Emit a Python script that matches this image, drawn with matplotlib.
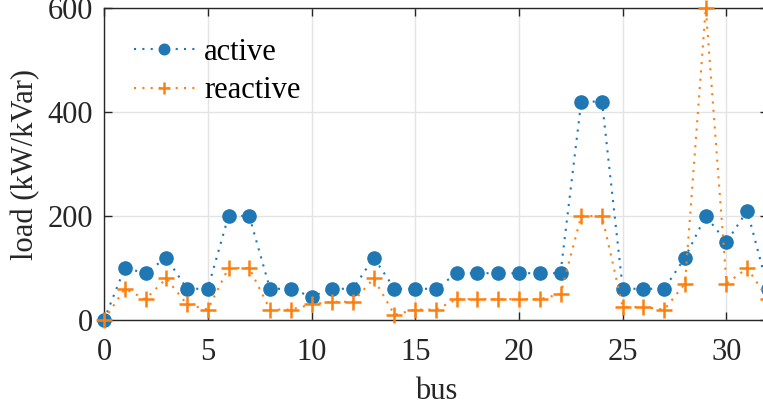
import matplotlib
matplotlib.use("Agg")
import matplotlib.pyplot as plt
import numpy as np

# Bus loads of the 33-bus distribution feeder (bus 0 is the substation)
buses = list(range(33))
active = [0, 100, 90, 120, 60, 60, 200, 200, 60, 60, 45, 60, 60, 120, 60, 60, 60,
          90, 90, 90, 90, 90, 90, 420, 420, 60, 60, 60, 120, 200, 150, 210, 60]
reactive = [0, 60, 40, 80, 30, 20, 100, 100, 20, 20, 30, 35, 35, 80, 10, 20, 20,
            40, 40, 40, 40, 40, 50, 200, 200, 25, 25, 20, 70, 600, 70, 100, 40]

xticks = [0, 5, 10, 15, 20, 25, 30]
yticks = [0, 200, 400, 600]

plt.rcParams['font.family'] = ['Liberation Serif', 'DejaVu Serif']

fig = plt.figure(figsize=(7.63, 4.08), dpi=100)
ax = fig.add_axes([104 / 763, 1 - 320 / 408, 664 / 763, 312 / 408])

blue = '#1f77b4'
orange = '#ff7f0e'
ax.plot(buses, active, linestyle=(0, (1, 3)), color=blue, marker='o', markersize=9.5,
        linewidth=1.5, label='active', clip_on=False, zorder=3)
ax.plot(buses, reactive, linestyle=(0, (1, 3)), color=orange, marker='+', markersize=11,
        markeredgewidth=1.8, linewidth=1.5, label='reactive', clip_on=False, zorder=3)

ax.set_xlim(0, 32)
ax.set_ylim(0, 600)
ax.set_xticks(xticks)
ax.set_yticks(yticks)
ax.tick_params(direction='in', labelsize=22, length=6, width=1, colors='#262626',
               top=True, right=True)
ax.tick_params(axis='x', pad=13)
ax.tick_params(axis='y', pad=8)
ax.grid(True, color='#e3e3e3', linewidth=1)
ax.set_axisbelow(True)
for s in ax.spines.values():
    s.set_color('#262626')
    s.set_linewidth(1)

ax.set_xlabel('bus', fontsize=22, color='#262626', labelpad=7)
ax.set_ylabel('load (kW/kVar)', fontsize=22, color='#262626', labelpad=5)

leg = ax.legend(loc='upper left', frameon=False, fontsize=22, handlelength=2.0,
                bbox_to_anchor=(0.045, 0.905), borderaxespad=0, borderpad=0,
                labelspacing=0.32, handletextpad=0.3, markerscale=0.8)

fig.savefig('out.png', dpi=100)
